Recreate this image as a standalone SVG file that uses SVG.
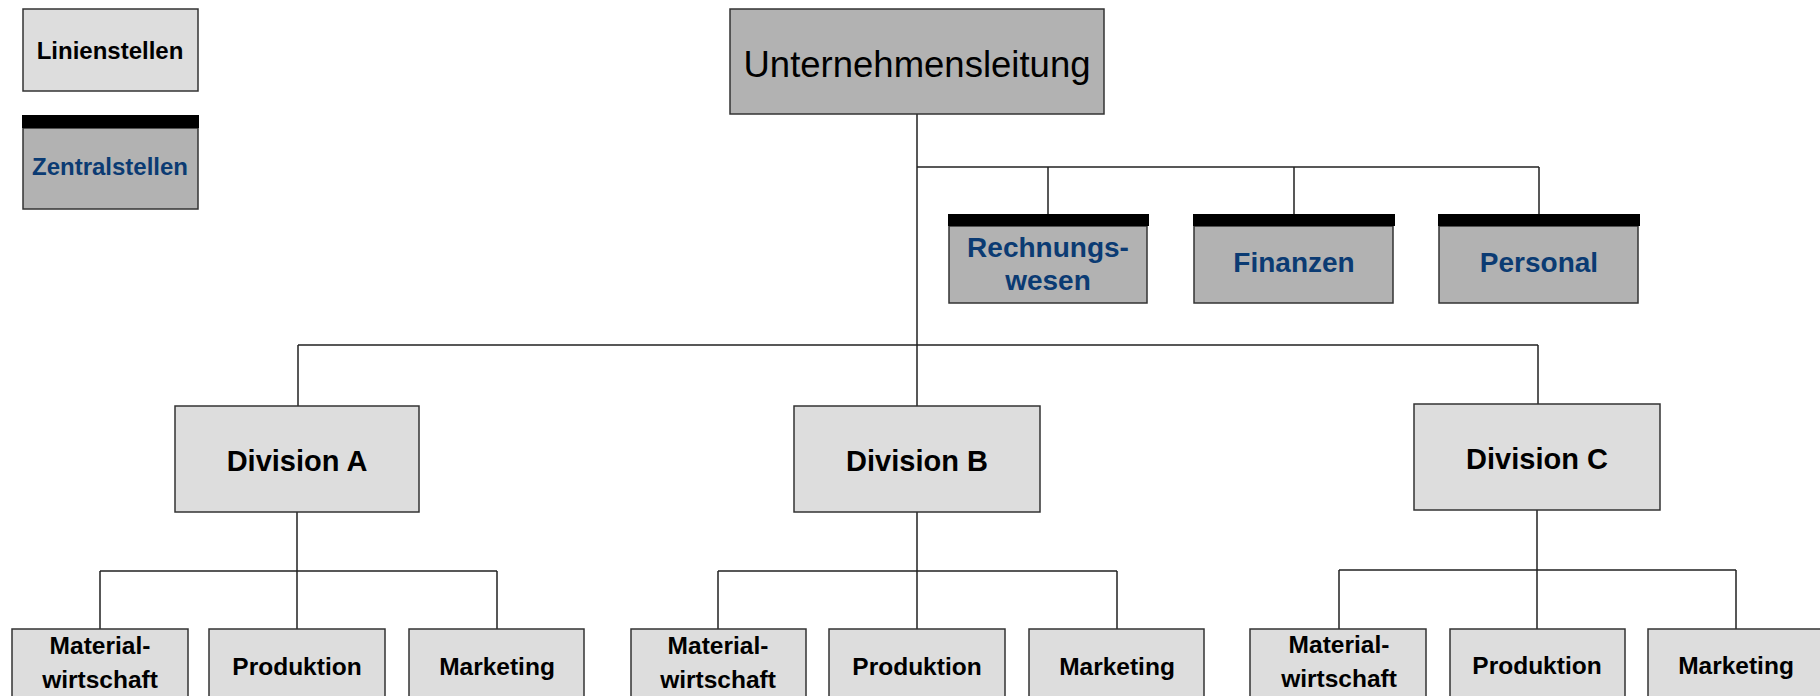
<svg xmlns="http://www.w3.org/2000/svg" width="1820" height="696" viewBox="0 0 1820 696">
<style>
.line{fill:#DDDDDD;stroke:#333;stroke-width:1.5}
.staff{fill:#B2B2B2;stroke:#333;stroke-width:1.5}
.bar{fill:#000}
.t{font-family:"Liberation Sans",Arial,sans-serif;font-weight:bold;text-anchor:middle;fill:#000}
.b{fill:#0B3B73}
.c{fill:none;stroke:#222;stroke-width:1.5}
</style>
<rect width="1820" height="696" fill="#FFFFFF"/>
<g id="connectors">
<path class="c" d="M917 114V406M917 167H1539M1048 167V215M1294 167V215M1539 167V215"/>
<path class="c" d="M298 345H1538M298 345V406M1538 345V404"/>
<path class="c" d="M297 512V629M100 571H497M100 571V629M497 571V629"/>
<path class="c" d="M917 512V629M718 571H1117M718 571V629M1117 571V629"/>
<path class="c" d="M1537 510V629M1339 570H1736M1339 570V629M1736 570V629"/>
</g>
<g id="legend-linienstellen">
<rect class="line" x="23" y="9" width="175" height="82"/>
<text class="t" x="110" y="59" font-size="24">Linienstellen</text>
</g>
<g id="legend-zentralstellen">
<rect class="staff" x="23" y="128" width="175" height="81"/>
<rect class="bar" x="22" y="115" width="177" height="13"/>
<text class="t b" x="110" y="175" font-size="24">Zentralstellen</text>
</g>
<g id="unternehmensleitung">
<rect class="staff" x="730" y="9" width="374" height="105"/>
<text x="917" y="77" font-size="36.5" font-family="Liberation Sans,Arial,sans-serif" text-anchor="middle">Unternehmensleitung</text>
</g>
<g id="rechnungswesen">
<rect class="staff" x="949" y="226" width="198" height="77"/>
<rect class="bar" x="948" y="214" width="201" height="12"/>
<text class="t b" x="1048" y="257" font-size="28">Rechnungs-</text>
<text class="t b" x="1048" y="290" font-size="28">wesen</text>
</g>
<g id="finanzen">
<rect class="staff" x="1194" y="226" width="199" height="77"/>
<rect class="bar" x="1193" y="214" width="202" height="12"/>
<text class="t b" x="1294" y="272" font-size="28">Finanzen</text>
</g>
<g id="personal">
<rect class="staff" x="1439" y="226" width="199" height="77"/>
<rect class="bar" x="1438" y="214" width="202" height="12"/>
<text class="t b" x="1539" y="272" font-size="28">Personal</text>
</g>
<g id="division-a">
<rect class="line" x="175" y="406" width="244" height="106"/>
<text class="t" x="297" y="471" font-size="29">Division A</text>
</g>
<g id="division-b">
<rect class="line" x="794" y="406" width="246" height="106"/>
<text class="t" x="917" y="471" font-size="29">Division B</text>
</g>
<g id="division-c">
<rect class="line" x="1414" y="404" width="246" height="106"/>
<text class="t" x="1537" y="469" font-size="29">Division C</text>
</g>
<g id="a-material">
<rect class="line" x="12" y="629" width="176" height="100"/>
<text class="t" x="100" y="654" font-size="24.5">Material-</text>
<text class="t" x="100" y="688" font-size="24.5">wirtschaft</text>
</g>
<g id="a-produktion">
<rect class="line" x="209" y="629" width="176" height="100"/>
<text class="t" x="297" y="675" font-size="24.5">Produktion</text>
</g>
<g id="a-marketing">
<rect class="line" x="409" y="629" width="175" height="100"/>
<text class="t" x="497" y="675" font-size="24.5">Marketing</text>
</g>
<g id="b-material">
<rect class="line" x="631" y="629" width="175" height="100"/>
<text class="t" x="718" y="654" font-size="24.5">Material-</text>
<text class="t" x="718" y="688" font-size="24.5">wirtschaft</text>
</g>
<g id="b-produktion">
<rect class="line" x="829" y="629" width="176" height="100"/>
<text class="t" x="917" y="675" font-size="24.5">Produktion</text>
</g>
<g id="b-marketing">
<rect class="line" x="1029" y="629" width="175" height="100"/>
<text class="t" x="1117" y="675" font-size="24.5">Marketing</text>
</g>
<g id="c-material">
<rect class="line" x="1250" y="629" width="176" height="100"/>
<text class="t" x="1339" y="653" font-size="24.5">Material-</text>
<text class="t" x="1339" y="687" font-size="24.5">wirtschaft</text>
</g>
<g id="c-produktion">
<rect class="line" x="1450" y="629" width="175" height="100"/>
<text class="t" x="1537" y="674" font-size="24.5">Produktion</text>
</g>
<g id="c-marketing">
<rect class="line" x="1648" y="629" width="176" height="100"/>
<text class="t" x="1736" y="674" font-size="24.5">Marketing</text>
</g>
</svg>
